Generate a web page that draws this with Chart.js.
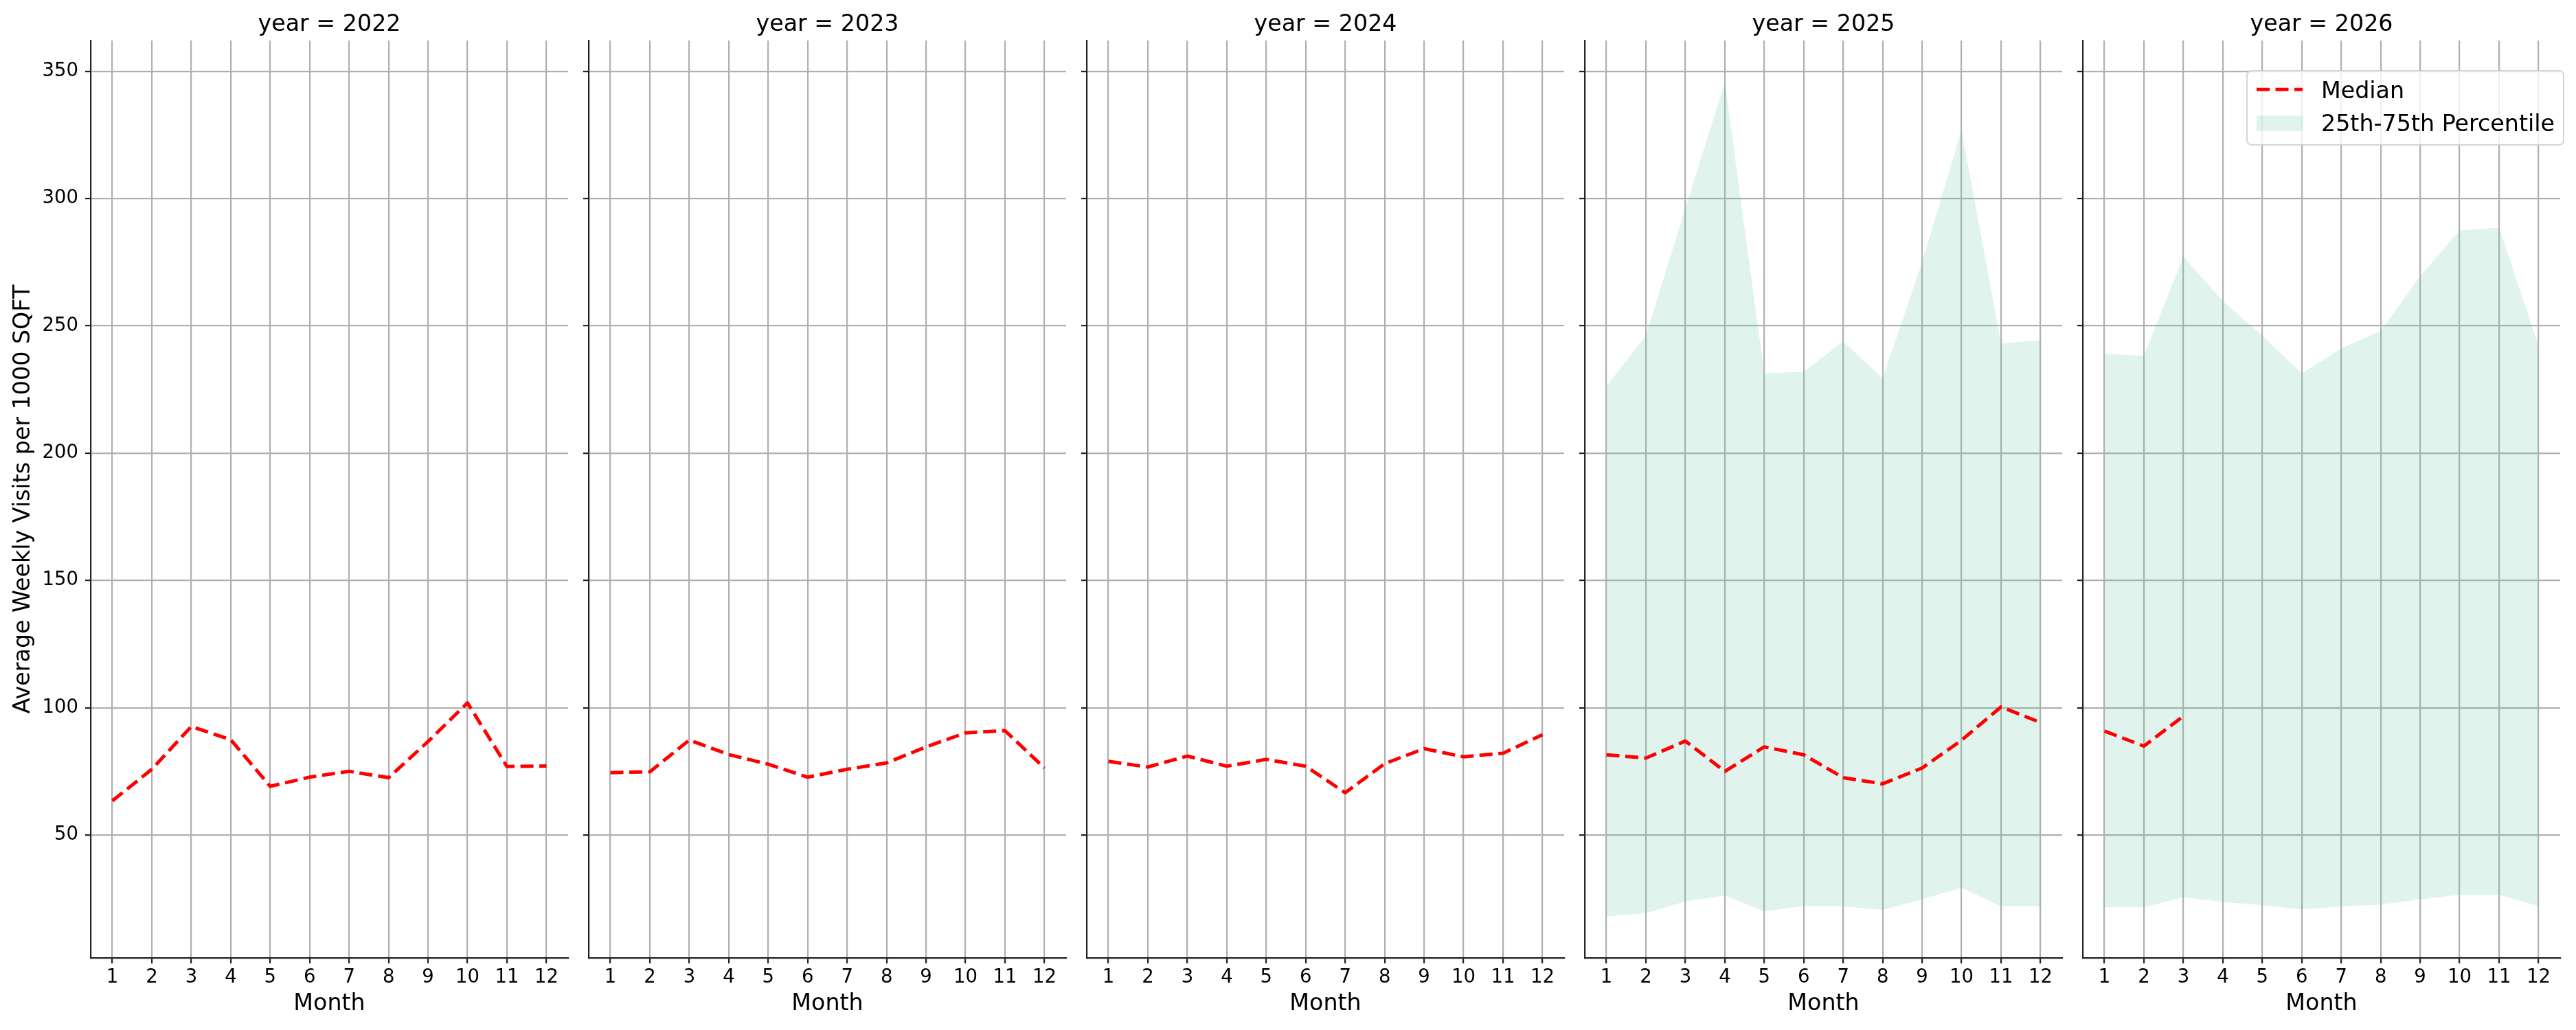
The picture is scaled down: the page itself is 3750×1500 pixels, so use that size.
<!DOCTYPE html>
<html>
<head>
<meta charset="utf-8">
<script src="https://cdn.jsdelivr.net/npm/chart.js@4.4.1/dist/chart.umd.min.js"></script>
<style>
  html, body { margin: 0; padding: 0; background: #ffffff; }
  #wrap { position: relative; width: 3750px; height: 1500px; overflow: hidden; background: #ffffff; }
  #wrap canvas { position: absolute; top: 0; }
</style>
</head>
<body>
<div id="wrap"></div>
<script>
// ---------------- data ----------------
const MONTHS = [1, 2, 3, 4, 5, 6, 7, 8, 9, 10, 11, 12];
const YEARS = [2022, 2023, 2024, 2025, 2026];
const Y_TICKS = [50, 100, 150, 200, 250, 300, 350];
const X_TITLE = 'Month';
const Y_TITLE = 'Average Weekly Visits per 1000 SQFT';
const MEDIAN_LABEL = 'Median';
const BAND_LABEL = '25th-75th Percentile';

const median2022 = [63.4, 75.8, 92.6, 87.4, 69.1, 72.7, 75.0, 72.5, 86.7, 101.9, 76.9, 77.1];
const median2023 = [74.5, 74.8, 87.3, 81.6, 77.8, 72.7, 75.8, 78.3, 84.6, 90.1, 91.0, 76.3];
const median2024 = [78.9, 76.7, 81.0, 77.0, 79.7, 77.0, 66.6, 78.0, 83.9, 80.7, 82.1, 89.4];
const median2025 = [81.5, 80.2, 86.9, 75.0, 84.6, 81.5, 72.5, 70.1, 76.3, 87.2, 100.3, 94.2];
const median2026 = [90.8, 84.9, 96.7, null, null, null, null, null, null, null, null, null];

const p25_2025 = [18.0, 19.3, 23.9, 26.2, 20.0, 22.1, 21.9, 20.6, 24.7, 29.3, 21.9, 22.1];
const p75_2025 = [226.3, 246.2, 296.3, 345.6, 231.3, 232.0, 243.9, 229.4, 275.1, 326.8, 243.1, 244.4];
const p25_2026 = [21.6, 21.6, 25.5, 23.7, 22.4, 20.8, 21.9, 22.6, 24.7, 26.5, 26.5, 22.1];
const p75_2026 = [239.0, 238.2, 277.2, 259.7, 246.2, 231.3, 241.1, 248.0, 269.5, 287.5, 288.6, 242.1];

const MEDIANS = { 2022: median2022, 2023: median2023, 2024: median2024, 2025: median2025, 2026: median2026 };
const BANDS = { 2025: [p25_2025, p75_2025], 2026: [p25_2026, p75_2026] };

// ---------------- style / layout ----------------
const FONT = 'DejaVu Sans';
const MEDIAN_COLOR = '#ff0000';
const BAND_COLOR = 'rgba(102,194,165,0.2)';
const GRID_COLOR = '#b0b0b0';
const AXIS_COLOR = '#222222';
const PLOT_LEFTS = [132, 857, 1582, 2307, 3032];
const PLOT_W = 695;
const TOP_H = 59;
const BOTTOM_H = 105;
const H = 1500;
const X_MIN = 0.45, X_MAX = 12.55, Y_MIN = 1.7, Y_MAX = 362.1;

const toPoints = (arr) => MONTHS.map((m, i) => ({ x: m, y: arr[i] }));

const legendPlugin = {
  id: 'facetLegend',
  afterDraw(chart, args, opts) {
    if (!opts || !opts.show) return;
    const ctx = chart.ctx;
    const a = chart.chartArea;
    const w = 461, h = 108;
    const right = a.right + 5, top = a.top + 44;
    const left = right - w;
    const dsMed = chart.data.datasets.find(d => d.label === MEDIAN_LABEL);
    const dsBand = chart.data.datasets.find(d => d.label === BAND_LABEL);
    ctx.save();
    // frame
    const r = 7;
    ctx.beginPath();
    ctx.moveTo(left + r, top);
    ctx.lineTo(right - r, top);
    ctx.arcTo(right, top, right, top + r, r);
    ctx.lineTo(right, top + h - r);
    ctx.arcTo(right, top + h, right - r, top + h, r);
    ctx.lineTo(left + r, top + h);
    ctx.arcTo(left, top + h, left, top + h - r, r);
    ctx.lineTo(left, top + r);
    ctx.arcTo(left, top, left + r, top, r);
    ctx.closePath();
    ctx.fillStyle = 'rgba(255,255,255,0.8)';
    ctx.fill();
    ctx.lineWidth = 2;
    ctx.strokeStyle = 'rgba(204,204,204,0.8)';
    ctx.stroke();
    // median handle
    ctx.beginPath();
    ctx.setLineDash(dsMed.borderDash);
    ctx.lineWidth = dsMed.borderWidth;
    ctx.strokeStyle = dsMed.borderColor;
    ctx.moveTo(left + 14, top + 27.3);
    ctx.lineTo(left + 81, top + 27.3);
    ctx.stroke();
    ctx.setLineDash([]);
    // band handle
    ctx.fillStyle = dsBand.backgroundColor;
    ctx.fillRect(left + 14, top + 65.6, 67, 22.4);
    // texts
    ctx.fillStyle = '#000000';
    ctx.font = '33.3px "' + FONT + '"';
    ctx.textBaseline = 'alphabetic';
    ctx.textAlign = 'left';
    ctx.fillText(dsMed.label, left + 108, top + 40);
    ctx.fillText(dsBand.label, left + 108, top + 88);
    ctx.restore();
  }
};

const wrap = document.getElementById('wrap');

YEARS.forEach((year, i) => {
  const plotL = PLOT_LEFTS[i];
  const canvasLeft = i === 0 ? 0 : plotL - 25;
  const canvasRight = i === YEARS.length - 1 ? 3750 : plotL + PLOT_W + 10;
  const cw = canvasRight - canvasLeft;
  const yAxisW = plotL - canvasLeft;
  const padRight = cw - (plotL + PLOT_W - canvasLeft);

  const canvas = document.createElement('canvas');
  canvas.width = cw;
  canvas.height = H;
  canvas.style.left = canvasLeft + 'px';
  canvas.style.width = cw + 'px';
  canvas.style.height = H + 'px';
  wrap.appendChild(canvas);

  const datasets = [{
    label: MEDIAN_LABEL,
    data: toPoints(MEDIANS[year]),
    borderColor: MEDIAN_COLOR,
    borderWidth: 5,
    borderDash: [19, 8.5],
    borderCapStyle: 'butt',
    borderJoinStyle: 'round',
    pointRadius: 0,
    fill: false,
    tension: 0,
    spanGaps: false
  }];
  if (BANDS[year]) {
    datasets.push({
      label: BAND_LABEL,
      data: toPoints(BANDS[year][1]),
      borderColor: 'rgba(0,0,0,0)',
      borderWidth: 0,
      backgroundColor: BAND_COLOR,
      pointRadius: 0,
      fill: '+1',
      tension: 0
    });
    datasets.push({
      label: '25th',
      data: toPoints(BANDS[year][0]),
      borderColor: 'rgba(0,0,0,0)',
      borderWidth: 0,
      pointRadius: 0,
      fill: false,
      tension: 0
    });
  }

  new Chart(canvas, {
    type: 'line',
    data: { datasets },
    plugins: [legendPlugin],
    options: {
      responsive: false,
      devicePixelRatio: 1,
      animation: false,
      events: [],
      layout: { padding: { left: 0, top: 0, bottom: 0, right: padRight } },
      plugins: {
        legend: { display: false },
        tooltip: { enabled: false },
        title: { display: false },
        facetLegend: { show: i === YEARS.length - 1 }
      },
      scales: {
        x: {
          type: 'linear',
          position: 'bottom',
          min: X_MIN,
          max: X_MAX,
          afterBuildTicks: (s) => { s.ticks = MONTHS.map(v => ({ value: v })); },
          afterFit: (s) => { s.height = BOTTOM_H; },
          ticks: {
            color: '#000000',
            font: { family: FONT, size: 27.5 },
            padding: 4,
            maxRotation: 0,
            autoSkip: false,
            callback: (v) => String(v)
          },
          grid: {
            color: GRID_COLOR,
            lineWidth: 2.2,
            drawTicks: true,
            tickLength: 8,
            tickColor: AXIS_COLOR,
            tickWidth: 2.2
          },
          border: { display: true, color: AXIS_COLOR, width: 2.2 },
          title: {
            display: true,
            text: X_TITLE,
            color: '#000000',
            font: { family: FONT, size: 33.3 },
            padding: { top: 0, bottom: 18 }
          }
        },
        xTop: {
          type: 'linear',
          axis: 'x',
          position: 'top',
          min: X_MIN,
          max: X_MAX,
          afterFit: (s) => { s.height = TOP_H; },
          ticks: { display: false },
          grid: { display: false, drawTicks: false },
          border: { display: false },
          title: {
            display: true,
            text: 'year = ' + year,
            color: '#000000',
            font: { family: FONT, size: 33.3 },
            padding: { top: 16, bottom: 0 }
          }
        },
        y: {
          type: 'linear',
          position: 'left',
          min: Y_MIN,
          max: Y_MAX,
          afterBuildTicks: (s) => { s.ticks = Y_TICKS.map(v => ({ value: v })); },
          afterFit: (s) => { s.width = yAxisW; },
          ticks: {
            display: i === 0,
            color: '#000000',
            font: { family: FONT, size: 27.5 },
            padding: 10,
            callback: (v) => String(v)
          },
          grid: {
            color: GRID_COLOR,
            lineWidth: 2.2,
            drawTicks: true,
            tickLength: 8,
            tickColor: AXIS_COLOR,
            tickWidth: 2.2
          },
          border: { display: true, color: AXIS_COLOR, width: 2.2 },
          title: {
            display: i === 0,
            text: Y_TITLE,
            color: '#000000',
            font: { family: FONT, size: 33.3 },
            padding: { top: 14, bottom: 0 }
          }
        }
      }
    }
  });
});
</script>
</body>
</html>
